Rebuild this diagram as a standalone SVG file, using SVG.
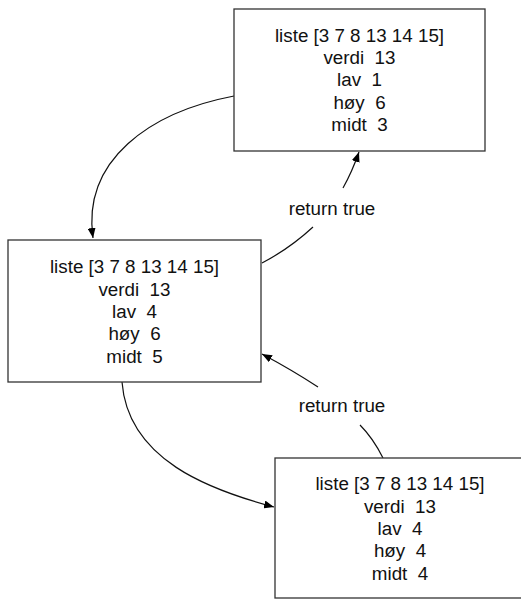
<svg xmlns="http://www.w3.org/2000/svg" width="521" height="599" viewBox="0 0 521 599">
<style>
.box{fill:#fff;stroke:#333;stroke-width:1.3}
.t{font-family:"Liberation Sans",Arial,sans-serif;font-size:18.8px;fill:#111;text-anchor:middle;white-space:pre}
.c{fill:none;stroke:#111;stroke-width:1.2}
</style>
<defs>
<marker id="ah" viewBox="0 0 10 8" refX="10" refY="4" markerWidth="10" markerHeight="8" markerUnits="userSpaceOnUse" orient="auto">
<path d="M0,0 L10,4 L0,8 z" fill="#000"/>
</marker>
</defs>
<rect width="521" height="599" fill="#fff"/>
<g id="connectors">
<path class="c" d="M234,96 C150,112 82,160 93,238" marker-end="url(#ah)"/>
<path class="c" d="M262,263 C285,251 300,239 313,227"/>
<path class="c" d="M343,188 Q352,172 359,152" marker-end="url(#ah)"/>
<path class="c" d="M383,458 Q373,438 360,425"/>
<path class="c" d="M318,387 Q292,370 262,354" marker-end="url(#ah)"/>
<path class="c" d="M122,382 C128,460 210,490 274,507" marker-end="url(#ah)"/>
<text class="t" x="332" y="215">return true</text>
<text class="t" x="342" y="412">return true</text>
</g>
<g id="node1">
<rect class="box" x="234" y="9" width="251" height="142"/>
<text class="t" x="359.5" y="42">liste [3 7 8 13 14 15]</text>
<text class="t" x="359.5" y="64">verdi  13</text>
<text class="t" x="359.5" y="86">lav  1</text>
<text class="t" x="359.5" y="108.5">høy  6</text>
<text class="t" x="359.5" y="131">midt  3</text>
</g>
<g id="node2">
<rect class="box" x="8" y="240" width="253" height="142"/>
<text class="t" x="134.5" y="273">liste [3 7 8 13 14 15]</text>
<text class="t" x="134.5" y="296">verdi  13</text>
<text class="t" x="134.5" y="318">lav  4</text>
<text class="t" x="134.5" y="340">høy  6</text>
<text class="t" x="134.5" y="363">midt  5</text>
</g>
<g id="node3">
<rect class="box" x="275" y="458" width="252" height="140"/>
<text class="t" x="400" y="490">liste [3 7 8 13 14 15]</text>
<text class="t" x="400" y="513">verdi  13</text>
<text class="t" x="400" y="535">lav  4</text>
<text class="t" x="400" y="557">høy  4</text>
<text class="t" x="400" y="580">midt  4</text>
</g>
</svg>
